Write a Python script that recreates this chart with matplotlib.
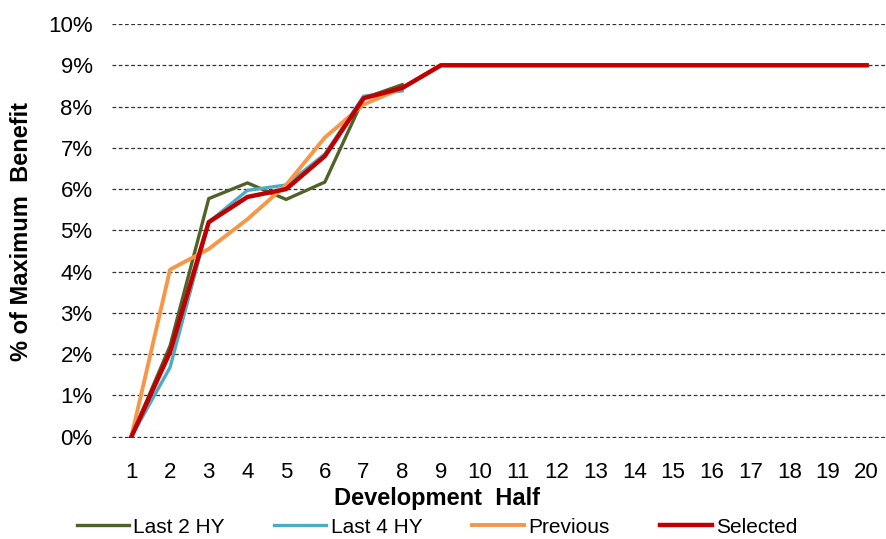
import matplotlib
matplotlib.use("Agg")
import matplotlib.pyplot as plt
from matplotlib.ticker import PercentFormatter

plt.rcParams['font.family'] = ['Liberation Sans', 'DejaVu Sans']

dev = list(range(1, 21))
last2 = [0.0, 2.2, 5.77, 6.15, 5.75, 6.17, 8.2, 8.53]
last4 = [0.0, 1.68, 5.2, 5.97, 6.1, 6.85, 8.25, 8.38]
previous = [0.0, 4.05, 4.55, 5.27, 6.1, 7.25, 8.05, 8.45] + [9.0] * 12
selected = [0.0, 2.05, 5.2, 5.81, 6.0, 6.8, 8.2, 8.45] + [9.0] * 12

W, H = 886, 539
fig = plt.figure(figsize=(W / 100, H / 100), dpi=100)
ax = fig.add_axes([112 / W, 101 / H, 774 / W, 414 / H])

ax.plot(dev[:len(last2)], last2, color='#4F6228', lw=2.4, label='Last 2 HY')
ax.plot(dev[:len(last4)], last4, color='#4BACC6', lw=2.4, label='Last 4 HY')
ax.plot(dev, previous, color='#F79646', lw=2.8, label='Previous')
ax.plot(dev, selected, color='#C00000', lw=3.2, label='Selected')

ax.set_xlim(0.5, 20.5)
ax.set_ylim(-0.03, 10)  # small margin so the 0% gridline isn't clipped
ax.set_xticks(dev)
ax.set_yticks(range(0, 11))
ax.yaxis.set_major_formatter(PercentFormatter(decimals=0))
ax.grid(axis='y', color='#333333', ls=(0, (3, 2)), lw=0.9)
ax.set_axisbelow(True)
for s in ax.spines.values():
    s.set_visible(False)
ax.tick_params(length=0, labelsize=16)
ax.tick_params(axis='y', pad=14)
ax.tick_params(axis='x', pad=17)

# axis titles placed in pixel terms relative to the plot box
ax.set_xlabel('Development  Half', fontsize=17, fontweight='bold')
ax.set_ylabel('% of Maximum  Benefit', fontsize=17, fontweight='bold')
ax.xaxis.set_label_coords((437 - 112) / 774, -(487 - 438) / 414)
ax.yaxis.set_label_coords(-(112 - 33) / 774, 0.5)

fig.legend(loc='center', bbox_to_anchor=(437 / W, 0.022), ncol=4, frameon=False,
           fontsize=15, handlelength=2.5, columnspacing=2.4, handletextpad=0.2)

fig.savefig('out.png', dpi=100)
